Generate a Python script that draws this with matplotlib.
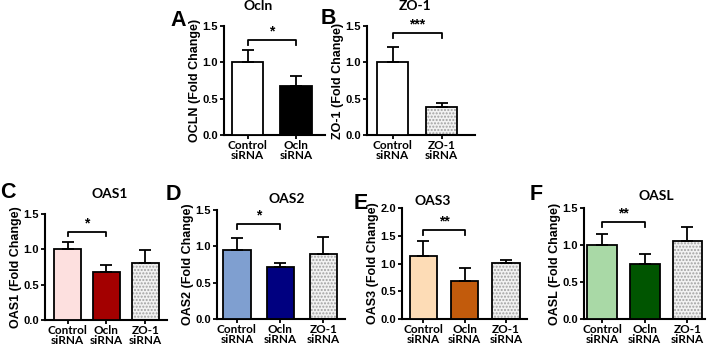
import numpy as np
import matplotlib.pyplot as plt

# data
labels_a = ['Control\nsiRNA', 'Ocln\nsiRNA']
labels_b = ['Control\nsiRNA', 'ZO-1\nsiRNA']
labels_3 = ['Control\nsiRNA', 'Ocln\nsiRNA', 'ZO-1\nsiRNA']

ocln_mean = [1.00, 0.68]
ocln_err = [0.17, 0.13]
zo1_mean = [1.01, 0.39]
zo1_err = [0.20, 0.05]
oas1_mean = [1.00, 0.68, 0.81]
oas1_err = [0.11, 0.10, 0.18]
oas2_mean = [0.95, 0.71, 0.90]
oas2_err = [0.16, 0.06, 0.23]
oas3_mean = [1.13, 0.69, 1.01]
oas3_err = [0.27, 0.23, 0.06]
oasl_mean = [1.00, 0.75, 1.06]
oasl_err = [0.15, 0.13, 0.18]

W, H = 708, 348
fig = plt.figure(figsize=(W / 100, H / 100), dpi=100)

AX_FONT = 'Liberation Sans'
CAT_FONT = 'Lato'


def px_axes(x0, x1, ytop, ybot):
    return fig.add_axes([x0 / W, 1 - ybot / H, (x1 - x0) / W, (ybot - ytop) / H])


def panel(rect, xlim, ymax, means, errs, cats, colors, hatched, width,
          title, title_xy, ylabel, letter, letter_xy, sig, sig_y):
    ax = px_axes(*rect)
    x = np.arange(len(means))
    for i in range(len(means)):
        if hatched[i]:
            ax.bar(x[i], means[i], width=width, color='#f2f2f2',
                   edgecolor='#a0a0a0', hatch='.....', linewidth=0, zorder=2)
            ax.bar(x[i], means[i], width=width, color='none',
                   edgecolor='black', linewidth=1.3, zorder=3)
        else:
            ax.bar(x[i], means[i], width=width, color=colors[i],
                   edgecolor='black', linewidth=1.3, zorder=3)
    ax.errorbar(x, means, yerr=[np.zeros(len(errs)), errs], fmt='none',
                ecolor='black', elinewidth=1.3, capsize=4, capthick=1.3, zorder=4)
    ax.set_xlim(*xlim)
    ax.set_ylim(0, ymax)
    ticks = np.arange(0, ymax + 0.01, 0.5)
    ax.set_yticks(ticks)
    ax.set_yticklabels(['%.1f' % v for v in ticks],
                       fontfamily=AX_FONT, fontweight='bold', fontsize=8)
    ax.set_xticks(x)
    ax.set_xticklabels(cats, fontfamily=CAT_FONT, fontweight='bold', fontsize=8.5,
                       linespacing=0.92)
    ax.tick_params(axis='y', length=3, width=1.3, pad=1.5, direction='out')
    ax.tick_params(axis='x', length=3, width=1.3, pad=0.5, direction='out')
    for s in ['top', 'right']:
        ax.spines[s].set_visible(False)
    for s in ['left', 'bottom']:
        ax.spines[s].set_linewidth(1.5)
    ax.set_ylabel(ylabel, fontfamily=AX_FONT, fontweight='bold', fontsize=9, labelpad=0.5)
    fig.text(title_xy[0] / W, 1 - title_xy[1] / H, title, fontfamily=CAT_FONT,
             fontweight='bold', fontsize=10, ha='center', va='baseline')
    # significance bracket
    stars, i0, i1 = sig
    drop = ymax * 0.045
    ax.plot([x[i0], x[i0], x[i1], x[i1]], [sig_y - drop, sig_y, sig_y, sig_y - drop],
            color='black', lw=1.3, clip_on=False)
    ax.text((x[i0] + x[i1]) / 2, sig_y + ymax * 0.015, stars, ha='center', va='bottom',
            fontfamily=AX_FONT, fontweight='bold', fontsize=10)
    fig.text(letter_xy[0] / W, 1 - letter_xy[1] / H, letter, fontfamily=AX_FONT,
             fontweight='bold', fontsize=15.5, ha='left', va='center')
    return ax


panel((224, 325, 26, 135), (-0.485, 1.59), 1.5, ocln_mean, ocln_err, labels_a,
      ['white', 'black'], [False, False], 0.65, 'Ocln', (258, 10),
      'OCLN (Fold Change)', 'A', (170, 20), ('*', 0, 1), 1.31)
panel((367, 475, 26, 135), (-0.52, 1.68), 1.5, zo1_mean, zo1_err, labels_b,
      ['white', 'white'], [False, True], 0.63, 'ZO-1', (415, 10),
      'ZO-1 (Fold Change)', 'B', (321, 18), ('***', 0, 1), 1.40)
panel((45, 167, 214, 320), (-0.58, 2.56), 1.5, oas1_mean, oas1_err, labels_3,
      ['#fde0df', '#a30000', 'white'], [False, False, True], 0.7, 'OAS1', (110, 198),
      'OAS1 (Fold Change)', 'C', (0, 192), ('*', 0, 1), 1.25)
panel((217, 345, 210, 319), (-0.46, 2.5), 1.5, oas2_mean, oas2_err, labels_3,
      ['#7f9fd0', '#000080', 'white'], [False, False, True], 0.63, 'OAS2', (287, 203),
      'OAS2 (Fold Change)', 'D', (166, 195), ('*', 0, 1), 1.31)
panel((402, 527, 208, 319), (-0.52, 2.51), 2.0, oas3_mean, oas3_err, labels_3,
      ['#fddcb6', '#c25b0c', 'white'], [False, False, True], 0.66, 'OAS3', (433, 205),
      'OAS3 (Fold Change)', 'E', (354, 204), ('**', 0, 1), 1.61)
panel((584, 705, 208, 319), (-0.42, 2.41), 1.5, oasl_mean, oasl_err, labels_3,
      ['#a9d9a6', '#005500', 'white'], [False, False, True], 0.7, 'OASL', (656, 200),
      'OASL (Fold Change)', 'F', (530, 195), ('**', 0, 1), 1.31)

plt.savefig('out.png', dpi=100)
